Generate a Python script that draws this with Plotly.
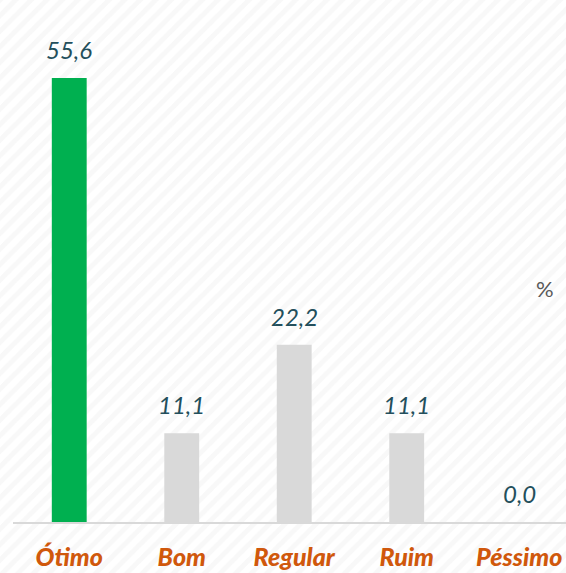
import plotly.graph_objects as go

categories = ["Ótimo", "Bom", "Regular", "Ruim", "Péssimo"]
values = [55.6, 11.1, 22.2, 11.1, 0.0]
value_labels = ["55,6", "11,1", "22,2", "11,1", "0,0"]
bar_colors = ["#00B050", "#D9D9D9", "#D9D9D9", "#D9D9D9", "#D9D9D9"]

W, H = 566, 573
left_px, bottom_px, top_px = 13, 51, 10

fig = go.Figure()

# striped background (full figure)
fig.add_trace(go.Scatter(
    x=[0, 1, 1, 0, 0], y=[0, 0, 1, 1, 0], mode="lines", fill="toself",
    line=dict(width=0, color="rgba(0,0,0,0)"),
    fillcolor="rgba(0,0,0,0)",
    fillpattern=dict(shape="/", fgcolor="#F1F1F1", bgcolor="rgba(255,255,255,0)",
                     size=11, solidity=0.45),
    hoverinfo="skip", showlegend=False, xaxis="x", yaxis="y"))

fig.add_trace(go.Bar(
    x=categories, y=values, marker=dict(color=bar_colors, line=dict(width=0)),
    width=0.31, showlegend=False, xaxis="x2", yaxis="y2", hoverinfo="skip"))

for c, v, t in zip(categories, values, value_labels):
    fig.add_annotation(x=c, y=v, xref="x2", yref="y2", text=t, showarrow=False,
                       yanchor="bottom", yshift=12,
                       font=dict(family="Lato", size=24, color="#234F5C", style="italic"))

fig.add_annotation(x=545 / W, y=1 - 288 / H, xref="paper", yref="paper", text="%",
                   showarrow=False, xanchor="center", yanchor="middle",
                   font=dict(family="Lato", size=22, color="#595959"))

fig.update_layout(
    width=W, height=H, margin=dict(l=0, r=0, t=0, b=0),
    paper_bgcolor="white", plot_bgcolor="rgba(0,0,0,0)",
    xaxis=dict(domain=[0, 1], range=[0, 1], visible=False, fixedrange=True),
    yaxis=dict(domain=[0, 1], range=[0, 1], visible=False, fixedrange=True),
    xaxis2=dict(domain=[left_px / W, 1], anchor="y2", range=[-0.5, 4.416],
                showline=True, linecolor="#D9D9D9", linewidth=2, showgrid=False,
                ticks="outside", ticklen=12, tickcolor="rgba(0,0,0,0)", automargin=False,
                tickfont=dict(family="Lato", size=25, color="#D0580C", weight=900, style="italic")),
    yaxis2=dict(domain=[bottom_px / H, 1 - top_px / H], anchor="x2",
                range=[0, 64.1], visible=False, showgrid=False),
)

fig.write_html("out.html", config={"displayModeBar": False},
               post_script="document.body.style.margin='0';document.body.style.overflow='hidden';")
